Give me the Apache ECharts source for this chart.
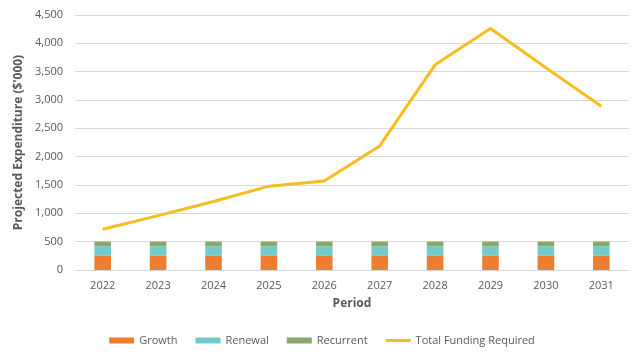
<!DOCTYPE html>
<html><head><meta charset="utf-8">
<script src="https://cdn.jsdelivr.net/npm/echarts@6/dist/echarts.min.js"></script>
<style>html,body{margin:0;padding:0;background:#fff}#c{width:644px;height:360px}</style>
</head><body><div id="c"></div>
<script>
const categories = ['2022','2023','2024','2025','2026','2027','2028','2029','2030','2031'];
const growth = [250,250,250,250,250,250,250,250,250,250];
const renewal = [170,170,170,170,170,170,170,170,170,170];
const recurrent = [80,80,80,80,80,80,80,80,80,80];
const totalFunding = [720,960,1210,1480,1570,2190,3620,4260,3570,2890];
const yTicks = [0,500,1000,1500,2000,2500,3000,3500,4000,4500];

const font = '"Open Sans", "Liberation Sans", sans-serif';
const chart = echarts.init(document.getElementById('c'));
chart.setOption({
  animation: false,
  textStyle: { fontFamily: font },
  grid: { left: 75, right: 15, top: 15, bottom: 90 },
  legend: {
    bottom: 9, left: 'center',
    itemWidth: 25, itemHeight: 6, itemGap: 18,
    textStyle: { color: '#595959', fontSize: 11, fontFamily: font },
    data: [
      { name: 'Growth', icon: 'rect' },
      { name: 'Renewal', icon: 'rect' },
      { name: 'Recurrent', icon: 'rect' },
      { name: 'Total Funding Required', icon: 'path://M0,0H50V6H0Z' }
    ]
  },
  xAxis: {
    type: 'category', data: categories,
    name: 'Period', nameLocation: 'middle', nameGap: 28,
    nameTextStyle: { color: '#595959', fontWeight: 'bold', fontSize: 12 },
    axisLine: { lineStyle: { color: '#d9d9d9' } },
    axisTick: { show: false },
    axisLabel: { color: '#595959', fontSize: 11, margin: 10 }
  },
  yAxis: {
    type: 'value', min: 0, max: 4500, interval: 500,
    name: "Projected Expenditure ($'000)", nameLocation: 'middle', nameGap: 43,
    nameTextStyle: { color: '#595959', fontWeight: 'bold', fontSize: 12 },
    axisLabel: { color: '#595959', fontSize: 11, margin: 12,
      formatter: v => yTicks.includes(v) ? v.toLocaleString('en-US') : '' },
    splitLine: { lineStyle: { color: '#d9d9d9' } }
  },
  series: [
    { name: 'Growth', type: 'bar', stack: 's', data: growth, barWidth: '30%', itemStyle: { color: '#ED7D31' } },
    { name: 'Renewal', type: 'bar', stack: 's', data: renewal, itemStyle: { color: '#72CACA' } },
    { name: 'Recurrent', type: 'bar', stack: 's', data: recurrent, itemStyle: { color: '#8AA66A' } },
    { name: 'Total Funding Required', type: 'line', data: totalFunding, symbol: 'none',
      lineStyle: { color: '#F5BD1F', width: 3 }, itemStyle: { color: '#F5BD1F' } }
  ]
});
</script></body></html>
